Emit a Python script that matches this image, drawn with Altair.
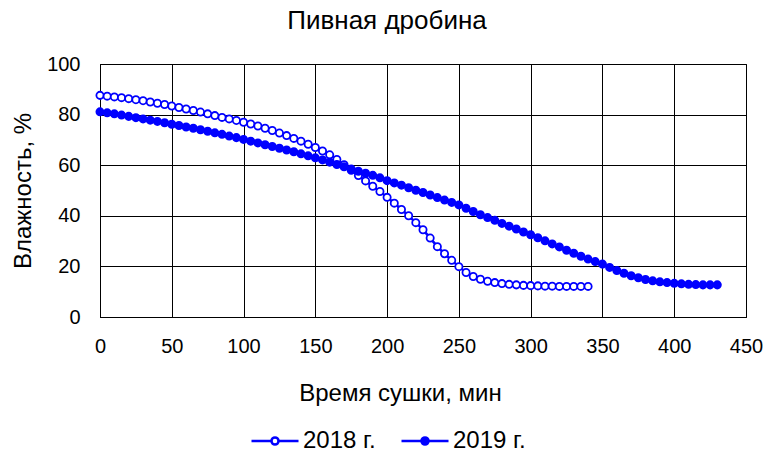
import altair as alt
import pandas as pd

# Drying time, minutes (5-minute sampling step)
time_2018 = list(range(0, 345, 5))
time_2019 = list(range(0, 435, 5))

# Moisture content, %
moist_2018 = [
    87.6, 87.3, 87.0, 86.7, 86.3, 85.9, 85.5, 85.0, 84.5, 84.0,
    83.4, 82.8, 82.2, 81.6, 81.0, 80.3, 79.6, 78.9, 78.3, 77.7,
    77.0, 76.3, 75.5, 74.6, 73.7, 72.7, 71.7, 70.6, 69.5, 68.3,
    67.0, 65.6, 64.1, 62.3, 60.2, 58.0, 55.9, 53.8, 51.7, 49.6,
    47.3, 45.0, 42.5, 40.0, 37.3, 34.5, 31.2, 27.8, 25.0, 22.4,
    19.9, 17.6, 16.0, 14.9, 14.1, 13.6, 13.2, 12.9, 12.7, 12.5,
    12.4, 12.3, 12.2, 12.2, 12.1, 12.1, 12.1, 12.1, 12.1,
]
moist_2019 = [
    81.1, 80.7, 80.3, 79.8, 79.3, 78.8, 78.3, 77.8, 77.3, 76.8,
    76.2, 75.7, 75.1, 74.6, 74.0, 73.4, 72.8, 72.2, 71.5, 70.9,
    70.2, 69.5, 68.8, 68.1, 67.4, 66.7, 66.0, 65.3, 64.5, 63.7,
    62.9, 62.1, 61.2, 60.3, 59.4, 58.5, 57.6, 56.8, 56.0, 55.0,
    53.9, 53.0, 52.1, 51.1, 50.1, 49.2, 48.2, 47.2, 46.2, 45.3,
    44.3, 43.0, 41.7, 40.4, 39.3, 38.2, 37.0, 35.9, 34.8, 33.6,
    32.5, 31.3, 30.1, 28.9, 27.7, 26.4, 25.2, 24.0, 22.9, 21.9,
    20.9, 19.6, 18.4, 17.3, 16.3, 15.5, 14.8, 14.3, 13.9, 13.6,
    13.3, 13.1, 12.9, 12.8, 12.7, 12.7, 12.7,
]

series_names = ["2018 г.", "2019 г."]
x_ticks = list(range(0, 451, 50))
y_ticks = list(range(0, 101, 20))

df = pd.concat([
    pd.DataFrame({"t": time_2018, "w": moist_2018, "series": series_names[0]}),
    pd.DataFrame({"t": time_2019, "w": moist_2019, "series": series_names[1]}),
], ignore_index=True)

FONT = "Liberation Sans"
BLUE = "#0000ff"

# legend glyph: a short line with a circle in the middle
legend_glyph = (
    "M-1,0L-0.15,0M0.15,0L1,0"
    "M-0.15,0A0.15,0.15 0 1 0 0.15,0A0.15,0.15 0 1 0 -0.15,0Z"
)

x_enc = alt.X(
    "t:Q",
    scale=alt.Scale(domain=[0, 450], nice=False),
    axis=alt.Axis(
        values=x_ticks, title="Время сушки, мин", format="d",
        titleX=300, titleY=83, titleBaseline="alphabetic", titleAlign="center",
        labelPadding=19, labelFlush=False, labelOverlap=False,
    ),
)
y_enc = alt.Y(
    "w:Q",
    scale=alt.Scale(domain=[0, 100], nice=False),
    axis=alt.Axis(
        values=y_ticks, title="Влажность, %", format="d",
        titleX=-77, titleY=126.5, titleAngle=-90, titleAlign="center",
        titleBaseline="middle", labelPadding=20, labelFlush=False,
    ),
)

lines = alt.Chart(df).mark_line(color=BLUE, strokeWidth=2.5).encode(
    x=x_enc, y=y_enc, detail="series:N"
)

points = alt.Chart(df).mark_point(
    shape="circle", filled=True, size=52, stroke=BLUE, strokeWidth=1.8, opacity=1
).encode(
    x=x_enc,
    y=y_enc,
    fill=alt.Fill(
        "series:N",
        scale=alt.Scale(domain=series_names, range=["#ffffff", BLUE]),
        legend=alt.Legend(
            title=None,
            orient="none",
            legendX=150,
            legendY=352,
            direction="horizontal",
            symbolType=legend_glyph,
            symbolSize=2209,
            symbolStrokeColor=BLUE,
            symbolStrokeWidth=2.5,
            symbolOpacity=1,
            labelFontSize=24,
            labelFont=FONT,
            labelColor="#000000",
            labelOffset=3,
            columnPadding=20,
            padding=0,
        ),
    ),
)

chart = (
    alt.layer(lines, points)
    .properties(
        width=646,
        height=253,
        background="#ffffff",
        title=alt.TitleParams(
            "Пивная дробина", font=FONT, fontSize=26, fontWeight="normal",
            color="#000000", anchor="middle", baseline="alphabetic",
            dx=-36, dy=5,
        ),
        autosize=alt.AutoSizeParams(type="none"),
        padding={"left": 100, "top": 64, "right": 20, "bottom": 138},
    )
    .configure_view(stroke="#000000", strokeWidth=1)
    .configure_axis(
        grid=True, gridColor="#000000", gridOpacity=1, gridWidth=1,
        domainColor="#000000", domainWidth=1, ticks=False, tickSize=0,
        labelFont=FONT, labelFontSize=20, labelColor="#000000",
        titleFont=FONT, titleFontSize=24, titleFontWeight="normal",
        titleColor="#000000",
    )
)

chart.save("out.html", embed_options={"renderer": "svg", "actions": False})
